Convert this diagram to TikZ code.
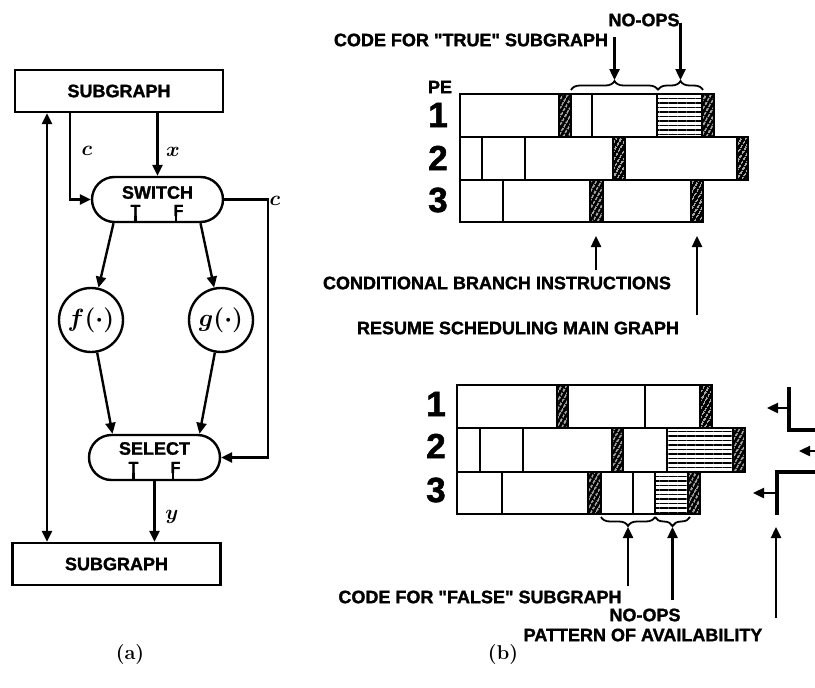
\documentclass[tikz,border=0pt]{standalone}
\usepackage{fontspec}
\usepackage{bm}
\setsansfont{Liberation Sans}[BoldFeatures={FakeBold=1.5}]
\usetikzlibrary{arrows.meta,shapes.misc,patterns.meta,decorations.pathreplacing}
\newcommand{\lblfont}{\sffamily\bfseries\fontsize{18}{20}\selectfont}
\newcommand{\tffont}{\sffamily\bfseries\fontsize{16}{18}\selectfont}
\newcommand{\pefont}{\sffamily\bfseries\fontsize{35}{38}\selectfont}
\newcommand{\varfont}{\fontsize{22}{24}\selectfont}
\newcommand{\fnfont}{\fontsize{27}{29}\selectfont}
\newcommand{\capfont}{\bfseries\fontsize{20}{22}\selectfont}
\tikzset{
  arr/.style={-{Triangle[length=11pt,width=10pt]}, line width=2.4pt},
  dblarr/.style={{Triangle[length=11pt,width=10pt]}-{Triangle[length=11pt,width=10pt]}, line width=2.4pt},
  sgbox/.style={draw, line width=2.4pt, minimum width=208pt, minimum height=42pt, font=\lblfont},
  pill/.style={rounded rectangle, draw, line width=2.4pt, minimum width=131pt, minimum height=45pt, inner sep=0pt},
  fnnode/.style={circle, draw, line width=2.4pt, minimum size=64pt, inner sep=0pt, font=\fnfont},
  cell/.style={draw, line width=2.4pt, fill=white},
  hatchcell/.style={fill=black, postaction={pattern={Lines[angle=60,distance=4pt,line width=1.1pt]}, pattern color=white}, postaction={draw, line width=2.4pt}},
  stripecell/.style={fill=white, postaction={pattern={Lines[angle=0,distance=4.5pt,line width=1.4pt]}, pattern color=black}, postaction={draw, line width=2.4pt}},
  brc/.style={decorate, decoration={brace, amplitude=9pt}, line width=1.8pt},
  note/.style={font=\lblfont, inner sep=0pt},
  avail/.style={line width=3.5pt}
}
\begin{document}
\begin{tikzpicture}[x=1pt,y=-1pt]
\useasboundingbox (0,0) rectangle (815,688);
% (a)
\node[sgbox] (topsg) at (119,91) {SUBGRAPH};
\node[pill] (switch) at (157.5,199.5) {};
\node[font=\lblfont, inner sep=0pt] (swtxt) at ([yshift=7pt]switch.center) {SWITCH};
\node[font=\tffont, inner sep=0pt] (swT) at ([xshift=-22pt,yshift=-11pt]switch.center) {T};
\node[font=\tffont, inner sep=0pt] (swF) at ([xshift=21pt,yshift=-11pt]switch.center) {F};
\draw[line width=2.3pt] (swT.south) -- (swT.south |- switch.south);
\draw[line width=2.3pt] ([xshift=-2.5pt]swF.south) -- ([xshift=-2.5pt]swF.south |- switch.south);
\node[fnnode] (fnode) at (91,320) {$\bm{f(\cdot)}$};
\node[fnnode] (gnode) at (221,320) {$\bm{g(\cdot)}$};
\node[pill] (select) at (154.5,457.5) {};
\node[font=\lblfont, inner sep=0pt] (seltxt) at ([yshift=9pt]select.center) {SELECT};
\node[font=\tffont, inner sep=0pt] (selT) at ([xshift=-21pt,yshift=-10pt]select.center) {T};
\node[font=\tffont, inner sep=0pt] (selF) at ([xshift=21pt,yshift=-10pt]select.center) {F};
\draw[line width=2.3pt] (selT.south) -- (selT.south |- select.south);
\draw[line width=2.3pt] ([xshift=-2.5pt]selF.south) -- ([xshift=-2.5pt]selF.south |- select.south);
\node[sgbox] (botsg) at (116.5,564) {SUBGRAPH};

\draw[arr] (topsg.south -| switch.north) -- (switch.north);
\draw[arr] ([xshift=-49pt]topsg.south) |- (switch.west);
\draw[arr] (switch.east) -- ++(44,0) |- (select.east);
\draw[arr] ([xshift=-44pt]switch.south) -- (fnode);
\draw[arr] ([xshift=43pt]switch.south) -- (gnode);
\draw[arr] (fnode) -- ([xshift=-42pt]select.north);
\draw[arr] (gnode) -- ([xshift=45pt]select.north);
\draw[arr] (select.south) -- (select.south |- botsg.north);
\coordinate (loopx) at (47,0);
\draw[dblarr] (loopx |- botsg.north) -- (loopx |- topsg.south);

\node[font=\varfont] (clbl) at (87,151) {$\bm{c}$};
\node[font=\varfont] (xlbl) at (173,152) {$\bm{x}$};
\node[font=\varfont] (c2lbl) at (275,201) {$\bm{c}$};
\node[font=\varfont] (ylbl) at (172,517) {$\bm{y}$};
\node[font=\capfont] (capa) at (130,655) {(a)};

% (b)
\foreach \xa/\xb/\ya/\yb in {460/559/94/137, 571/592/94/137, 592/657/94/137,
    460/482/137/180, 482/525/137/180, 525/613/137/180, 625/737/137/180,
    460/503/180/222, 503/590/180/222, 603/691/180/222,
    457/557/385/428, 568/645/385/428, 645/700/385/428,
    457/480/428/472, 480/523/428/472, 523/612/428/472, 623/667/428/472,
    457/502/472/514, 502/588/472/514, 601/633/472/514, 633/655/472/514}
  \draw[cell] (\xa,\ya) rectangle (\xb,\yb);
\foreach \xa/\xb/\ya/\yb in {559/571/94/137, 702/714/94/137, 613/625/137/180,
    737/748/137/180, 590/603/180/222, 691/703/180/222,
    557/568/385/428, 700/712/385/428, 612/623/428/472, 733/745/428/472,
    588/601/472/514, 688/700/472/514}
  \path[hatchcell] (\xa,\ya) rectangle (\xb,\yb);
\foreach \xa/\xb/\ya/\yb in {657/702/94/137, 667/733/428/472, 655/688/472/514}
  \path[stripecell] (\xa,\ya) rectangle (\xb,\yb);

\node[note] (pelbl) at (440,87) {PE};
\foreach \n/\yy in {1/115,2/158,3/200}
  \node[font=\pefont, inner sep=0pt] (ntop\n) at (438,\yy) {\n};
\foreach \n/\yy in {1/404,2/446,3/490}
  \node[font=\pefont, inner sep=0pt] (nbot\n) at (436,\yy) {\n};

\draw[brc] (571,90) -- (658,90);
\draw[brc] (658,90) -- (703,90);
\draw[brc] (655,517) -- (601,517);
\draw[brc] (690,517) -- (655,517);

\coordinate (truetip) at (614.5,80);
\coordinate (nooptip) at (680.5,80);
\coordinate (condtip) at (596,236);
\coordinate (restip) at (697,236);
\coordinate (falsetip) at (628,527);
\coordinate (nooptipB) at (672.5,527);
\coordinate (pattip) at (776,527);

\node[note] (truelbl) at (471,40) {CODE FOR \textquotedbl TRUE\textquotedbl\ SUBGRAPH};
\node[note] (noopsT) at (644,20) {NO-OPS};
\node[note] (condlbl) at (497,283) {CONDITIONAL BRANCH INSTRUCTIONS};
\node[note] (reslbl) at (518,328) {RESUME SCHEDULING MAIN GRAPH};
\node[note] (falselbl) at (480,597) {CODE FOR \textquotedbl FALSE\textquotedbl\ SUBGRAPH};
\node[note] (noopsB) at (645,615) {NO-OPS};
\node[note] (patlbl) at (643,635) {PATTERN OF AVAILABILITY};

\draw[arr] ([yshift=-4pt]truelbl.north east -| truetip) -- (truetip);
\draw[arr] ([yshift=4pt]noopsT.south east -| nooptip) -- (nooptip);
\draw[arr] ([yshift=6pt]condtip |- condlbl.north) -- (condtip);
\draw[arr] ([yshift=6pt]restip |- reslbl.north) -- (restip);
\draw[arr] ([yshift=4pt]falselbl.north east -| falsetip) -- (falsetip);
\draw[arr] ([yshift=8pt]noopsB.north -| nooptipB) -- (nooptipB);
\draw[arr] ([yshift=10pt]patlbl.north east -| pattip) -- (pattip);

\coordinate (av1) at (789,408);
\coordinate (av2) at (815,451);
\coordinate (av3) at (777,493);
\draw[avail] (789,387) -- (789,430) -- (815,430);
\draw[avail] (815,472) -- (777,472) -- (777,515);
\draw[arr] (av1) -- ++(-22,0);
\draw[arr] (av2) -- ++(-16,0);
\draw[arr] (av3) -- ++(-24,0);

\node[font=\capfont] (capb) at (503,655) {(b)};
\end{tikzpicture}
\end{document}
